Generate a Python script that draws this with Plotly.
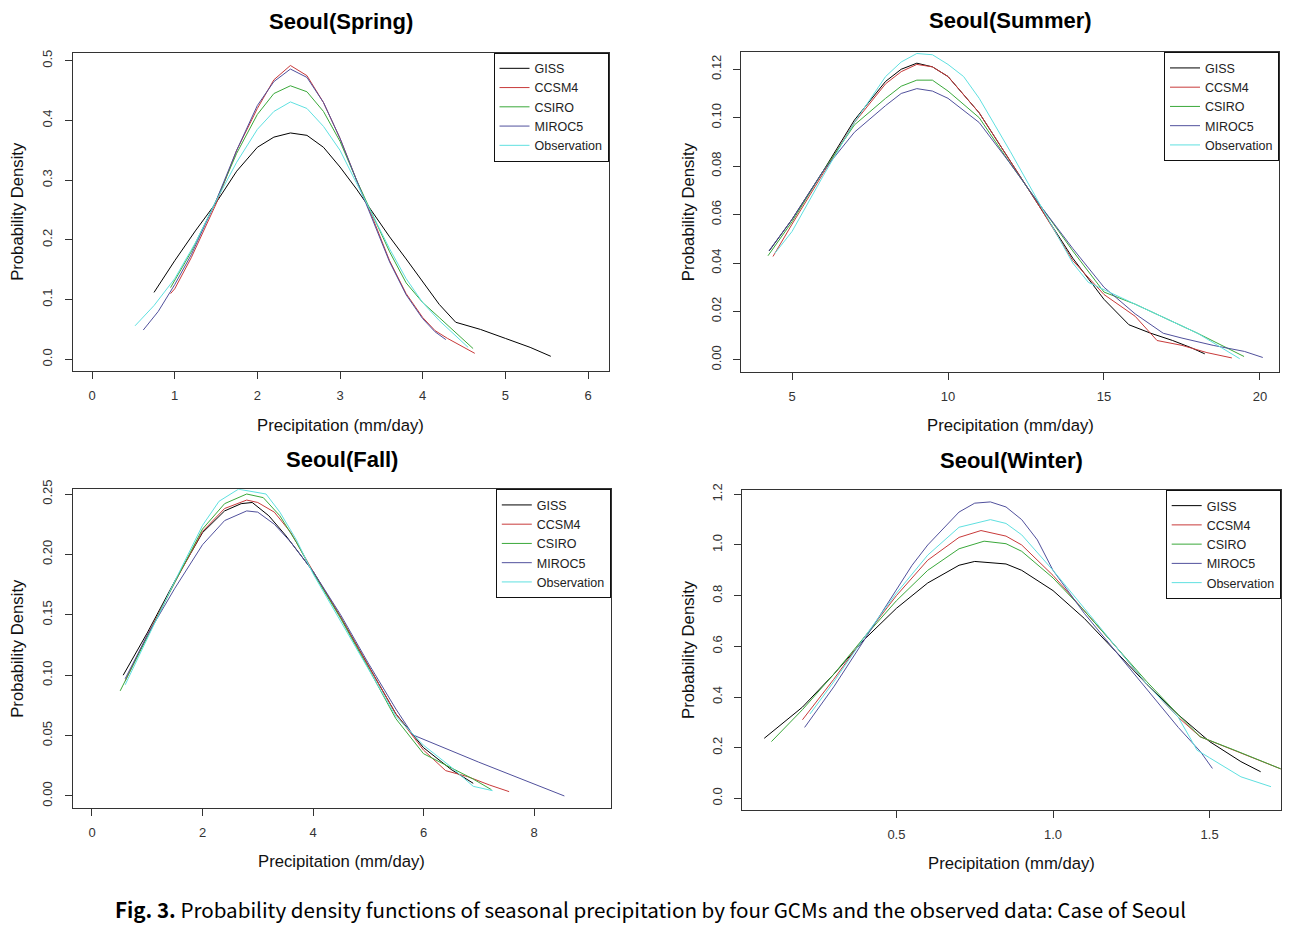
import plotly.graph_objects as go

# ---------------- data ----------------
series_names = ["GISS", "CCSM4", "CSIRO", "MIROC5", "Observation"]
series_colors = ["#000000", "#c83a3a", "#3aa83a", "#50509c", "#5fe0e0"]

# Spring
spring_giss_x = [0.75, 1.0, 1.25, 1.5, 1.75, 2.0, 2.2, 2.4, 2.6, 2.8, 3.0, 3.2, 3.4, 3.6, 3.8, 4.0, 4.2, 4.4, 4.7, 5.0, 5.3, 5.55]
spring_giss_y = [0.112, 0.165, 0.215, 0.262, 0.315, 0.355, 0.372, 0.379, 0.375, 0.355, 0.322, 0.285, 0.245, 0.205, 0.168, 0.130, 0.092, 0.062, 0.050, 0.035, 0.020, 0.005]
spring_ccsm4_x = [0.95, 1.0, 1.2, 1.5, 1.75, 2.0, 2.2, 2.4, 2.6, 2.8, 3.0, 3.2, 3.4, 3.6, 3.8, 4.0, 4.15, 4.3, 4.63]
spring_ccsm4_y = [0.110, 0.118, 0.170, 0.260, 0.350, 0.420, 0.468, 0.492, 0.475, 0.430, 0.370, 0.300, 0.235, 0.165, 0.110, 0.070, 0.048, 0.035, 0.010]
spring_csiro_x = [0.95, 1.2, 1.5, 1.75, 2.0, 2.2, 2.4, 2.6, 2.8, 3.0, 3.2, 3.4, 3.6, 3.8, 4.0, 4.2, 4.4, 4.61]
spring_csiro_y = [0.120, 0.180, 0.265, 0.345, 0.410, 0.445, 0.458, 0.448, 0.415, 0.365, 0.300, 0.240, 0.180, 0.128, 0.095, 0.070, 0.045, 0.018]
spring_miroc5_x = [0.62, 0.8, 1.0, 1.2, 1.5, 1.75, 2.0, 2.2, 2.4, 2.6, 2.8, 3.0, 3.2, 3.4, 3.6, 3.8, 4.0, 4.15, 4.28]
spring_miroc5_y = [0.049, 0.080, 0.125, 0.175, 0.265, 0.350, 0.425, 0.465, 0.486, 0.472, 0.430, 0.370, 0.300, 0.232, 0.163, 0.108, 0.068, 0.046, 0.033]
spring_obs_x = [0.52, 0.75, 1.0, 1.25, 1.5, 1.75, 2.0, 2.2, 2.4, 2.6, 2.8, 3.0, 3.2, 3.4, 3.6, 3.8, 4.0, 4.2, 4.4, 4.55]
spring_obs_y = [0.056, 0.090, 0.135, 0.195, 0.265, 0.330, 0.385, 0.415, 0.431, 0.420, 0.390, 0.350, 0.295, 0.240, 0.185, 0.135, 0.095, 0.065, 0.040, 0.020]

# Summer
summer_giss_x = [4.27, 5, 6, 7, 8, 8.5, 9, 9.5, 10, 11, 12, 13, 14, 15, 15.8, 16.5, 17.2, 17.8, 18.23]
summer_giss_y = [0.045, 0.058, 0.078, 0.099, 0.115, 0.120, 0.1225, 0.121, 0.117, 0.102, 0.082, 0.062, 0.042, 0.025, 0.0145, 0.011, 0.008, 0.005, 0.0025]
summer_ccsm4_x = [4.39, 5, 6, 7, 8, 8.5, 9, 9.5, 10, 11, 12, 13, 14, 15, 16, 16.7, 17.5, 18.3, 19.1]
summer_ccsm4_y = [0.0427, 0.056, 0.077, 0.098, 0.114, 0.119, 0.122, 0.121, 0.117, 0.102, 0.082, 0.062, 0.041, 0.027, 0.018, 0.008, 0.006, 0.003, 0.0008]
summer_csiro_x = [4.23, 5, 6, 7, 8, 8.5, 9, 9.5, 10, 11, 12, 13, 14, 15, 16, 17, 18, 19.49]
summer_csiro_y = [0.043, 0.057, 0.078, 0.097, 0.108, 0.113, 0.1155, 0.1155, 0.111, 0.100, 0.081, 0.063, 0.045, 0.028, 0.023, 0.017, 0.011, 0.0014]
summer_miroc5_x = [4.26, 5, 6, 7, 8, 8.5, 9, 9.5, 10, 11, 12, 13, 14, 15, 16, 16.9, 17.5, 18.5, 19.5, 20.09]
summer_miroc5_y = [0.045, 0.058, 0.078, 0.094, 0.105, 0.110, 0.112, 0.111, 0.108, 0.098, 0.081, 0.063, 0.046, 0.030, 0.019, 0.011, 0.009, 0.006, 0.0035, 0.001]
summer_obs_x = [4.45, 5, 6, 7, 8, 8.5, 9, 9.5, 10, 10.5, 11, 12, 13, 14, 14.5, 15, 16, 17, 18, 19.35]
summer_obs_y = [0.044, 0.053, 0.076, 0.098, 0.117, 0.123, 0.1265, 0.126, 0.122, 0.117, 0.108, 0.086, 0.063, 0.040, 0.032, 0.029, 0.023, 0.017, 0.011, 0.0005]

# Fall
fall_giss_x = [0.565, 1.0, 1.5, 2.0, 2.4, 2.7, 2.9, 3.2, 3.5, 4.0, 4.5, 5.0, 5.5, 6.0, 6.5, 6.9]
fall_giss_y = [0.100, 0.135, 0.178, 0.218, 0.236, 0.242, 0.243, 0.232, 0.216, 0.186, 0.148, 0.108, 0.068, 0.040, 0.022, 0.0105]
fall_ccsm4_x = [0.6, 1.0, 1.5, 2.0, 2.4, 2.8, 3.0, 3.3, 3.6, 4.0, 4.5, 5.0, 5.5, 6.0, 6.4, 6.8, 7.2, 7.55]
fall_ccsm4_y = [0.095, 0.133, 0.177, 0.219, 0.238, 0.245, 0.243, 0.235, 0.218, 0.186, 0.148, 0.108, 0.068, 0.038, 0.021, 0.016, 0.009, 0.0036]
fall_csiro_x = [0.51, 1.0, 1.5, 2.0, 2.4, 2.8, 3.1, 3.4, 3.7, 4.0, 4.5, 5.0, 5.5, 6.0, 6.5, 6.9, 7.23]
fall_csiro_y = [0.087, 0.132, 0.177, 0.221, 0.242, 0.250, 0.247, 0.232, 0.210, 0.185, 0.147, 0.106, 0.064, 0.035, 0.023, 0.014, 0.0052]
fall_miroc5_x = [0.6, 1.0, 1.5, 2.0, 2.4, 2.8, 3.0, 3.3, 3.6, 4.0, 4.5, 5.0, 5.5, 5.81, 7.0, 8.55]
fall_miroc5_y = [0.097, 0.133, 0.172, 0.208, 0.228, 0.236, 0.235, 0.225, 0.210, 0.186, 0.150, 0.110, 0.072, 0.0505, 0.028, 0.000]
fall_obs_x = [0.6, 1.0, 1.5, 2.0, 2.3, 2.65, 2.9, 3.15, 3.4, 3.7, 4.0, 4.5, 5.0, 5.5, 6.0, 6.5, 6.9, 7.25]
fall_obs_y = [0.092, 0.130, 0.178, 0.224, 0.244, 0.254, 0.252, 0.250, 0.235, 0.212, 0.184, 0.145, 0.105, 0.066, 0.042, 0.024, 0.008, 0.0044]

# Winter
winter_giss_x = [0.078, 0.2, 0.3, 0.4, 0.5, 0.6, 0.7, 0.75, 0.85, 0.9, 1.0, 1.1, 1.2, 1.3, 1.4, 1.5, 1.6, 1.663]
winter_giss_y = [0.237, 0.36, 0.49, 0.63, 0.75, 0.85, 0.92, 0.935, 0.925, 0.90, 0.82, 0.71, 0.58, 0.45, 0.33, 0.224, 0.145, 0.105]
winter_ccsm4_x = [0.2, 0.3, 0.4, 0.5, 0.6, 0.7, 0.77, 0.85, 0.9, 1.0, 1.1, 1.2, 1.3, 1.4, 1.47, 1.58, 1.76]
winter_ccsm4_y = [0.31, 0.47, 0.64, 0.80, 0.94, 1.03, 1.057, 1.035, 1.00, 0.88, 0.74, 0.60, 0.45, 0.32, 0.243, 0.19, 0.10]
winter_csiro_x = [0.101, 0.2, 0.3, 0.4, 0.5, 0.6, 0.7, 0.78, 0.85, 0.9, 1.0, 1.1, 1.2, 1.3, 1.4, 1.47, 1.58, 1.76]
winter_csiro_y = [0.224, 0.35, 0.49, 0.64, 0.78, 0.90, 0.985, 1.015, 1.005, 0.975, 0.87, 0.74, 0.60, 0.46, 0.33, 0.243, 0.19, 0.10]
winter_miroc5_x = [0.207, 0.3, 0.4, 0.5, 0.55, 0.6, 0.7, 0.75, 0.8, 0.85, 0.9, 0.95, 1.0, 1.1, 1.2, 1.3, 1.4, 1.471, 1.509]
winter_miroc5_y = [0.28, 0.44, 0.63, 0.82, 0.92, 1.00, 1.13, 1.165, 1.17, 1.15, 1.10, 1.02, 0.90, 0.73, 0.58, 0.43, 0.28, 0.184, 0.118]
winter_obs_x = [0.224, 0.3, 0.4, 0.5, 0.6, 0.7, 0.8, 0.85, 0.9, 1.0, 1.1, 1.2, 1.3, 1.4, 1.46, 1.5, 1.6, 1.696]
winter_obs_y = [0.333, 0.46, 0.64, 0.81, 0.96, 1.07, 1.10, 1.085, 1.04, 0.90, 0.75, 0.60, 0.45, 0.32, 0.19, 0.16, 0.085, 0.046]

# tick labels
spring_xticks = [0, 1, 2, 3, 4, 5, 6]
spring_yticks = ["0.0", "0.1", "0.2", "0.3", "0.4", "0.5"]
summer_xticks = [5, 10, 15, 20]
summer_yticks = ["0.00", "0.02", "0.04", "0.06", "0.08", "0.10", "0.12"]
fall_xticks = [0, 2, 4, 6, 8]
fall_yticks = ["0.00", "0.05", "0.10", "0.15", "0.20", "0.25"]
winter_xticks = ["0.5", "1.0", "1.5"]
winter_yticks = ["0.0", "0.2", "0.4", "0.6", "0.8", "1.0", "1.2"]

panel_titles = ["Seoul(Spring)", "Seoul(Summer)", "Seoul(Fall)", "Seoul(Winter)"]
x_title = "Precipitation (mm/day)"
y_title = "Probability Density"
caption_bold = "Fig. 3."
caption_text = " Probability density functions of seasonal precipitation by four GCMs and the observed data: Case of Seoul"

# ---------------- figure ----------------
W, H = 1300, 925
FONT = "Liberation Sans, Arial, sans-serif"

def px_x(p):
    return p / W

def px_y(p):
    return 1 - p / H

# plot boxes in pixels: left, right, top, bottom
boxes = [
    (72.6, 608.5, 52.7, 371.0),
    (741.0, 1279.0, 52.3, 372.0),
    (72.6, 610.8, 489.3, 808.3),
    (742.0, 1280.7, 490.0, 810.0),
]
xranges = [(-0.235, 6.248), (3.365, 20.61), (-0.351, 9.39), (0.007, 1.727)]
yranges = [(-0.0196, 0.5134), (-0.005, 0.127), (-0.0102, 0.2539), (-0.046, 1.217)]
xtick_lists = [spring_xticks, summer_xticks, fall_xticks, winter_xticks]
ytick_lists = [spring_yticks, summer_yticks, fall_yticks, winter_yticks]

panels = [
    [(spring_giss_x, spring_giss_y), (spring_ccsm4_x, spring_ccsm4_y), (spring_csiro_x, spring_csiro_y),
     (spring_miroc5_x, spring_miroc5_y), (spring_obs_x, spring_obs_y)],
    [(summer_giss_x, summer_giss_y), (summer_ccsm4_x, summer_ccsm4_y), (summer_csiro_x, summer_csiro_y),
     (summer_miroc5_x, summer_miroc5_y), (summer_obs_x, summer_obs_y)],
    [(fall_giss_x, fall_giss_y), (fall_ccsm4_x, fall_ccsm4_y), (fall_csiro_x, fall_csiro_y),
     (fall_miroc5_x, fall_miroc5_y), (fall_obs_x, fall_obs_y)],
    [(winter_giss_x, winter_giss_y), (winter_ccsm4_x, winter_ccsm4_y), (winter_csiro_x, winter_csiro_y),
     (winter_miroc5_x, winter_miroc5_y), (winter_obs_x, winter_obs_y)],
]

fig = go.Figure()
layout = dict(
    width=W, height=H,
    margin=dict(l=0, r=0, t=0, b=0, autoexpand=False),
    paper_bgcolor="white", plot_bgcolor="white",
    font=dict(family=FONT, color="#222222"),
    annotations=[],
)

for i, (series, box) in enumerate(zip(panels, boxes)):
    ax = "" if i == 0 else str(i + 1)
    leg = "legend" if i == 0 else "legend%d" % (i + 1)
    for j, (xs, ys) in enumerate(series):
        fig.add_trace(go.Scatter(
            x=xs, y=ys, mode="lines", name=series_names[j],
            line=dict(color=series_colors[j], width=1),
            xaxis="x" + ax, yaxis="y" + ax, legend=leg,
            showlegend=True,
        ))
    l, r, t, b = box
    xt = xtick_lists[i]
    yt = ytick_lists[i]
    axis_common = dict(
        showline=True, mirror=True, linecolor="#333333", linewidth=1,
        ticks="outside", ticklen=7, tickwidth=1, tickcolor="#333333",
        showgrid=False, zeroline=False, automargin=False,
        tickfont=dict(family=FONT, size=13, color="#333333"),
    )
    layout["xaxis" + ax] = dict(
        axis_common, domain=[px_x(l), px_x(r)], range=list(xranges[i]),
        anchor="y" + ax,
        tickmode="array", tickvals=[float(v) for v in xt], ticktext=[str(v) for v in xt],
        ticklabelstandoff=5,
    )
    layout["yaxis" + ax] = dict(
        axis_common, domain=[px_y(b), px_y(t)], range=list(yranges[i]),
        anchor="x" + ax,
        tickmode="array", tickvals=[float(v) for v in yt], ticktext=yt,
        tickangle=-90, ticklabelstandoff=7,
    )
    layout[leg] = dict(
        x=px_x(r), y=px_y(t), xanchor="right", yanchor="top",
        xref="paper", yref="paper",
        bgcolor="white", bordercolor="#111111", borderwidth=1,
        font=dict(family=FONT, size=12.5, color="#222222"),
        tracegroupgap=0,
    )
    cx = (l + r) / 2
    cy = (t + b) / 2
    title_y = [22, 21, 459, 460][i]
    xt_y = [425, 426, 861, 863][i]
    yt_x = [18, 688, 18, 688][i]
    layout["annotations"] += [
        dict(text="<b>" + panel_titles[i] + "</b>", x=px_x(cx), y=px_y(title_y),
             xref="paper", yref="paper", showarrow=False, xanchor="center", yanchor="middle",
             font=dict(family=FONT, size=22, color="#000000")),
        dict(text=x_title, x=px_x(cx), y=px_y(xt_y),
             xref="paper", yref="paper", showarrow=False, xanchor="center", yanchor="middle",
             font=dict(family=FONT, size=16.7, color="#111111")),
        dict(text=y_title, x=px_x(yt_x), y=px_y(cy), textangle=-90,
             xref="paper", yref="paper", showarrow=False, xanchor="center", yanchor="middle",
             font=dict(family=FONT, size=16.7, color="#111111")),
    ]

layout["annotations"].append(dict(
    text="<b>" + caption_bold + "</b>" + caption_text,
    x=0.5, y=px_y(909), xref="paper", yref="paper", showarrow=False,
    xanchor="center", yanchor="middle",
    font=dict(family="Noto Sans CJK KR, Noto Sans, sans-serif", size=20.6, color="#000000"),
))

fig.update_layout(**layout)
fig.write_html(
    "out.html",
    config={"displayModeBar": False},
    post_script="document.body.style.margin='0';document.body.style.overflow='hidden';",
)
